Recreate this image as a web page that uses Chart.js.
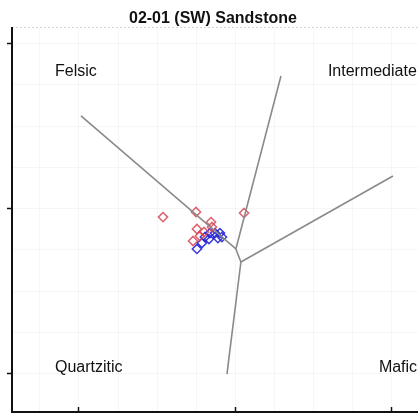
<!DOCTYPE html>
<html>
<head>
<meta charset="utf-8">
<script src="https://cdn.jsdelivr.net/npm/chart.js@4/dist/chart.umd.min.js"></script>
<style>
  html, body { margin: 0; padding: 0; background: #ffffff; }
  #wrap { width: 418px; height: 414px; }
</style>
</head>
<body>
<div id="wrap"><canvas id="c" width="418" height="414"></canvas></div>
<script>
// Discriminant-function provenance fields (DF1 vs DF2)
const titleText = "02-01 (SW) Sandstone";

// Field boundary polylines
const felsicBoundary = [{x: -9.84, y: 5.58}, {x: 0.06, y: -2.48}];
const intermediateBoundary = [{x: 2.94, y: 8.0}, {x: 0.06, y: -2.48}, {x: 0.38, y: -3.27}];
const maficBoundary = [{x: 0.38, y: -3.27}, {x: 10.10, y: 1.94}];
const quartziticBoundary = [{x: 0.38, y: -3.27}, {x: -0.51, y: -10.06}];

// Sample groups
const redX = [-4.60, -2.49, 0.58, -1.53, -2.43, -1.98, -2.68, -2.24, -1.47];
const redY = [-0.55, -0.24, -0.30, -0.85, -1.27, -1.45, -2.00, -1.70, -1.15];
const blueX = [-2.43, -2.11, -1.66, -1.28, -0.96, -1.09, -1.60, -1.92, -0.83];
const blueY = [-2.48, -2.12, -1.88, -1.52, -1.52, -1.82, -1.52, -1.76, -1.76];

// Field names and their anchor positions (left edge, vertical middle)
const fieldNames = ["Felsic", "Intermediate", "Quartzitic", "Mafic"];
const fieldX = [-11.5, 5.94, -11.5, 9.2];
const fieldY = [8.24, 8.24, -9.64, -9.64];

// Axis ticks and faint grid positions
const xTicks = [-10, 0, 10];
const yTicks = [10, 0, -10];
const xGrid = [-12.5, -10, -7.5, -5, -2.5, 0, 2.5, 5, 7.5, 10];
const yGrid = [10, 7.5, 5, 2.5, 0, -2.5, -5, -7.5, -10];

const toPts = (xs, ys) => xs.map((x, i) => ({x, y: ys[i]}));

const lineDs = (data) => ({
  data, showLine: true, borderColor: '#8a8a8a', borderWidth: 1.6,
  pointRadius: 0, fill: false, tension: 0
});

// faint background grid
const grid = {
  id: 'grid',
  beforeDatasetsDraw(chart) {
    const {ctx, chartArea: a, scales: {x, y}} = chart;
    ctx.save();
    ctx.strokeStyle = 'rgba(0,0,0,0.035)';
    ctx.lineWidth = 1;
    xGrid.forEach(v => {
      const px = Math.round(x.getPixelForValue(v)) + 0.5;
      ctx.beginPath(); ctx.moveTo(px, a.top); ctx.lineTo(px, a.bottom); ctx.stroke();
    });
    yGrid.forEach(v => {
      const py = Math.round(y.getPixelForValue(v)) + 0.5;
      ctx.beginPath(); ctx.moveTo(a.left, py); ctx.lineTo(a.right, py); ctx.stroke();
    });
    ctx.restore();
  }
};

const decor = {
  id: 'decor',
  afterDatasetsDraw(chart) {
    const {ctx, chartArea: a, scales: {x, y}} = chart;
    ctx.save();
    // dotted top border
    ctx.strokeStyle = '#d4d4d4';
    ctx.lineWidth = 1;
    ctx.setLineDash([2, 2]);
    ctx.beginPath(); ctx.moveTo(a.left, a.top + 0.5); ctx.lineTo(a.right, a.top + 0.5); ctx.stroke();
    ctx.setLineDash([]);
    // axis lines
    ctx.strokeStyle = '#111';
    ctx.lineWidth = 2;
    ctx.beginPath();
    ctx.moveTo(a.left, a.top); ctx.lineTo(a.left, a.bottom); ctx.lineTo(a.right, a.bottom);
    ctx.stroke();
    // left ticks point outward, bottom ticks point inward
    ctx.lineWidth = 1.5;
    yTicks.forEach(v => {
      const py = Math.round(y.getPixelForValue(v)) + 0.5;
      ctx.beginPath(); ctx.moveTo(a.left - 5, py); ctx.lineTo(a.left, py); ctx.stroke();
    });
    xTicks.forEach(v => {
      const px = Math.round(x.getPixelForValue(v)) + 0.5;
      ctx.beginPath(); ctx.moveTo(px, a.bottom); ctx.lineTo(px, a.bottom - 5); ctx.stroke();
    });
    // field names
    ctx.fillStyle = '#111';
    ctx.font = '16px "Liberation Sans", Arial, sans-serif';
    ctx.textAlign = 'left';
    ctx.textBaseline = 'middle';
    fieldNames.forEach((t, i) => {
      ctx.fillText(t, x.getPixelForValue(fieldX[i]), y.getPixelForValue(fieldY[i]));
    });
    // title
    ctx.font = 'bold 16px "Liberation Sans", Arial, sans-serif';
    ctx.textAlign = 'center';
    ctx.textBaseline = 'alphabetic';
    ctx.fillText(titleText, 213, 23);
    ctx.restore();
  }
};

new Chart(document.getElementById('c'), {
  type: 'scatter',
  data: {
    datasets: [
      lineDs(felsicBoundary),
      lineDs(intermediateBoundary),
      lineDs(maficBoundary),
      lineDs(quartziticBoundary),
      {
        data: toPts(redX, redY), pointStyle: 'rectRot', pointRadius: 4.6,
        borderColor: 'rgba(215,70,85,0.85)', backgroundColor: 'rgba(0,0,0,0)', borderWidth: 1.5
      },
      {
        data: toPts(blueX, blueY), pointStyle: 'rectRot', pointRadius: 4.6,
        borderColor: 'rgba(35,35,215,0.9)', backgroundColor: 'rgba(0,0,0,0)', borderWidth: 1.5
      }
    ]
  },
  options: {
    responsive: false,
    animation: false,
    devicePixelRatio: 1,
    layout: { autoPadding: false, padding: { left: 12, top: 27, right: 0, bottom: 2 } },
    plugins: { legend: { display: false }, tooltip: { enabled: false }, title: { display: false } },
    scales: {
      x: { type: 'linear', min: -14.25, max: 11.7, display: false },
      y: { type: 'linear', min: -12.36, max: 10.97, display: false }
    }
  },
  plugins: [grid, decor]
});
</script>
</body>
</html>
